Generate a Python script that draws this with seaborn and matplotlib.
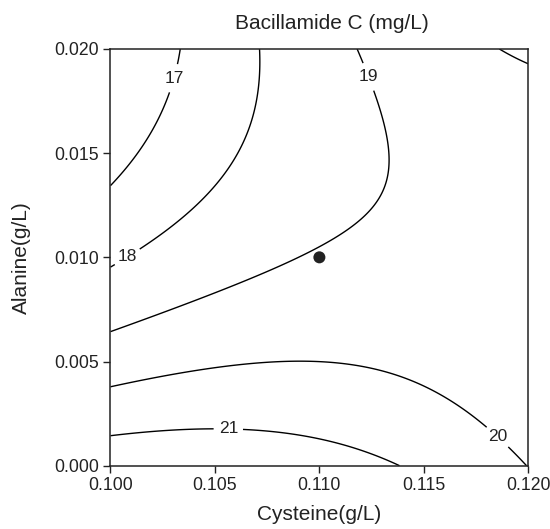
import numpy as np
import matplotlib
matplotlib.use('Agg')
import matplotlib.pyplot as plt
import seaborn as sns

# points read along each contour line of the reference (Cysteine g/L, Alanine g/L)
c17_x = [0.10329, 0.10285, 0.10245, 0.10173, 0.10093, 0.10000]
c17_y = [0.02000, 0.01803, 0.01691, 0.01555, 0.01451, 0.01351]

c18_x = [0.10712, 0.10712, 0.10692, 0.10644, 0.10572, 0.10540, 0.10444, 0.10333, 0.10237, 0.10149, 0.10006]
c18_y = [0.02000, 0.01859, 0.01723, 0.01555, 0.01443, 0.01395, 0.01267, 0.01179, 0.01107, 0.01051, 0.00955]

c19_x = [0.11183, 0.11218, 0.11258, 0.11290, 0.11306, 0.11330, 0.11330, 0.11306, 0.11287, 0.11242,
         0.11210, 0.11131, 0.10971, 0.10844, 0.10700, 0.10572, 0.10428, 0.10301, 0.10157, 0.10000]
c19_y = [0.02000, 0.01907, 0.01811, 0.01707, 0.01651, 0.01523, 0.01427, 0.01341, 0.01280, 0.01227,
         0.01187, 0.01131, 0.01043, 0.00979, 0.00915, 0.00854, 0.00795, 0.00755, 0.00699, 0.00643]

c20_x = [0.10000, 0.10189, 0.10381, 0.10620, 0.10731, 0.10907, 0.11099, 0.11290, 0.11418, 0.11562,
         0.11673, 0.11793, 0.11904, 0.11995, 0.11861, 0.11928, 0.12000]
c20_y = [0.00383, 0.00416, 0.00448, 0.00487, 0.00496, 0.00507, 0.00494, 0.00459, 0.00422, 0.00347,
         0.00283, 0.00195, 0.00083, 0.00000, 0.02000, 0.01963, 0.01931]

c21_x = [0.10000, 0.10285, 0.10492, 0.10716, 0.10939, 0.11131, 0.11290, 0.11386]
c21_y = [0.00143, 0.00171, 0.00179, 0.00170, 0.00139, 0.00091, 0.00038, 0.00000]

levels = [17, 18, 19, 20, 21]
label_pos = [(0.10293, 0.01862), (0.10080, 0.01003), (0.11229, 0.01864),
             (0.11856, 0.00141), (0.10564, 0.00175)]

opt_x = [0.110]
opt_y = [0.010]

# fit a quadratic response surface through the traced contour points
px = np.concatenate([c17_x, c18_x, c19_x, c20_x, c21_x])
py = np.concatenate([c17_y, c18_y, c19_y, c20_y, c21_y])
pz = np.concatenate([np.full(len(c17_x), 17), np.full(len(c18_x), 18), np.full(len(c19_x), 19),
                     np.full(len(c20_x), 20), np.full(len(c21_x), 21)]).astype(float)


def design(x, y):
    u = (x - 0.110) / 0.010
    v = (y - 0.010) / 0.010
    return np.column_stack([np.ones_like(u), u, v, u * u, v * v, u * v])


coef, *_ = np.linalg.lstsq(design(px, py), pz, rcond=None)

gx = np.linspace(0.100, 0.120, 241)
gy = np.linspace(0.000, 0.020, 241)
GX, GY = np.meshgrid(gx, gy)
GZ = (design(GX.ravel(), GY.ravel()) @ coef).reshape(GX.shape)

sns.set_theme(style='ticks')
plt.rcParams['font.family'] = ['Liberation Sans', 'DejaVu Sans']

fig = plt.figure(figsize=(5.5, 5.29), dpi=100)
ax = fig.add_axes([0.2009, 0.1197, 0.7596, 0.7877])

cs = ax.contour(GX, GY, GZ, levels=levels, colors='black', linewidths=1.0)
lab = ax.clabel(cs, fmt='%d', fontsize=12.5, inline=True, inline_spacing=5, manual=label_pos)
for t in lab:
    t.set_rotation(0)
    t.set_color('#222222')

sns.scatterplot(x=opt_x, y=opt_y, ax=ax, color='#222222', s=75, edgecolor='none', zorder=5)

ax.set_xlim(0.100, 0.120)
ax.set_ylim(0.000, 0.020)
ax.set_xticks([0.100, 0.105, 0.110, 0.115, 0.120])
ax.set_yticks([0.000, 0.005, 0.010, 0.015, 0.020])
ax.xaxis.set_major_formatter(matplotlib.ticker.FormatStrFormatter('%.3f'))
ax.yaxis.set_major_formatter(matplotlib.ticker.FormatStrFormatter('%.3f'))
ax.tick_params(direction='out', length=5, width=1.0, labelsize=12.7, colors='#222222', pad=3.5)
for s in ax.spines.values():
    s.set_linewidth(1.1)
    s.set_color('#222222')

ax.set_xlabel('Cysteine(g/L)', fontsize=15, color='#222222')
ax.set_ylabel('Alanine(g/L)', fontsize=15, color='#222222')
ax.xaxis.set_label_coords(0.5, -0.118)
ax.xaxis.label.set_va('center')
ax.yaxis.set_label_coords(-0.212, 0.5)
ax.yaxis.label.set_va('center')

fig.text(0.603, 0.9565, 'Bacillamide C (mg/L)', fontsize=15, color='#222222',
         ha='center', va='center')

fig.savefig('out.png', dpi=100)
